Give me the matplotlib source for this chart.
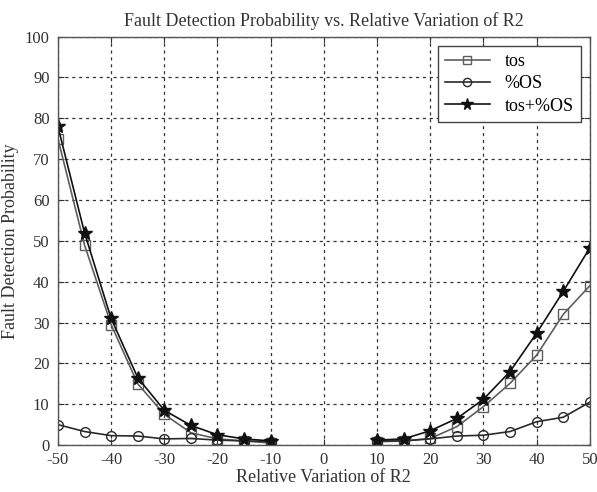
import matplotlib
matplotlib.use("Agg")
import matplotlib.pyplot as plt
import numpy as np

x_left = [-50, -45, -40, -35, -30, -25, -20, -15, -10]
x_right = [10, 15, 20, 25, 30, 35, 40, 45, 50]

tos_left = [75, 49, 29.5, 15, 7.5, 3, 1.5, 1, 0.5]
os_left = [5, 3.3, 2.3, 2.2, 1.5, 1.6, 1.2, 1, 0.8]
both_left = [78, 52, 31, 16.5, 8.5, 4.8, 2.5, 1.5, 1]

tos_right = [0.8, 1, 1.6, 4.5, 9.4, 15.1, 22, 32, 39]
os_right = [1, 1, 1.5, 2.2, 2.4, 3.3, 5.7, 6.8, 10.5]
both_right = [1.2, 1.5, 3.5, 6.5, 11.2, 18, 27.4, 37.6, 48.3]

plt.rcParams['font.family'] = ['Liberation Serif', 'DejaVu Serif']
plt.rcParams['axes.unicode_minus'] = False

fig = plt.figure(figsize=(5.97, 4.92), dpi=100)
ax = fig.add_axes([0.097, 0.0955, 0.891, 0.83])

styles = [
    ("tos", tos_left, tos_right, 's', '#5e5e5e'),
    ("%OS", os_left, os_right, 'o', '#2a2a2a'),
    ("tos+%OS", both_left, both_right, '*', '#111111'),
]
for label, yl, yr, m, c in styles:
    ms = 10 if m == '*' else 7
    mfc = c if m == '*' else 'none'
    ax.plot(x_left, yl, color=c, marker=m, ms=ms, mfc=mfc, mec=c, lw=1.2, label=label)
    ax.plot(x_right, yr, color=c, marker=m, ms=ms, mfc=mfc, mec=c, lw=1.2)

ax.set_xlim(-50, 50)
ax.set_ylim(0, 100)
ax.set_xticks(np.arange(-50, 51, 10))
ax.set_yticks(np.arange(0, 101, 10))
ax.grid(True, color='#333333', linestyle=(0, (2.5, 3)), linewidth=0.9)
ax.tick_params(direction='in', top=True, right=True, labelsize=12, colors='#333333', length=4)
ax.tick_params(axis='x', pad=5)
ax.tick_params(axis='y', pad=6)
for s in ax.spines.values():
    s.set_color('#555555')
    s.set_linewidth(1.0)
ax.set_xlabel("Relative Variation of R2", fontsize=13, color='#333333', labelpad=1)
ax.set_ylabel("Fault Detection Probability", fontsize=13, color='#333333', labelpad=4)
ax.set_title("Fault Detection Probability vs. Relative Variation of R2", fontsize=13, color='#333333', pad=8)
leg = ax.legend(loc='upper right', fontsize=13, fancybox=False, framealpha=1, edgecolor='#444444',
                borderpad=0.4, handlelength=2.5, labelspacing=0.3, markerscale=0.85)
leg.get_frame().set_linewidth(1.0)
fig.savefig("out.png", dpi=100)
